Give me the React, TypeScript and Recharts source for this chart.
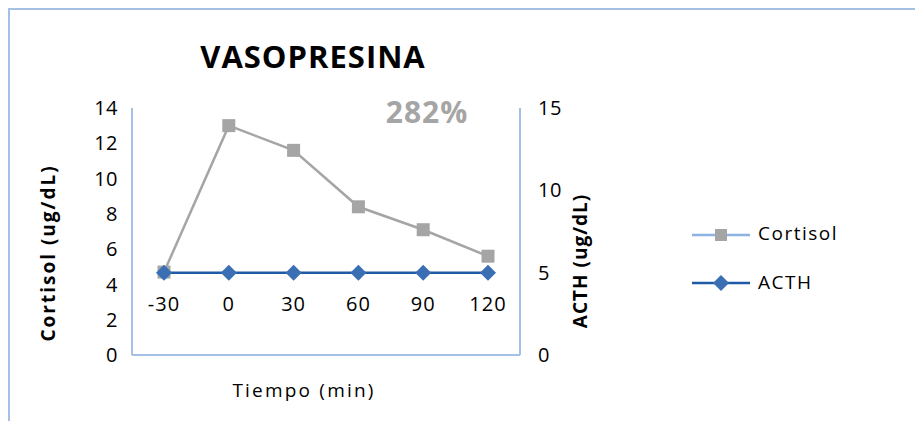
import { Line, LineChart, XAxis, YAxis } from "recharts";

const tiempos = ["-30", "0", "30", "60", "90", "120"];
const cortisol = [4.7, 13.0, 11.6, 8.4, 7.1, 5.6];
const acth = [5.0, 5.0, 5.0, 5.0, 5.0, 5.0];
const ticksCortisol = [0, 2, 4, 6, 8, 10, 12, 14];
const ticksActh = [0, 5, 10, 15];

const data = tiempos.map((t, i) => ({ t, cortisol: cortisol[i], acth: acth[i] }));

const FONT = "'Open Sans', sans-serif";
const FRAME = "#a4c0e4";
const GRIS = "#a5a5a5";
const AZUL = "#1f5aa6";
const AZUL_MARCA = "#3a6fb4";

// square marker for cortisol
const Cuadro = (props: any) => {
  const { cx, cy } = props;
  if (cx == null || cy == null) return null;
  return <rect x={cx - 6.5} y={cy - 6.5} width={13} height={13} fill={GRIS} />;
};

// diamond marker for ACTH
const Rombo = (props: any) => {
  const { cx, cy } = props;
  if (cx == null || cy == null) return null;
  const r = 8;
  return (
    <polygon
      points={`${cx},${cy - r} ${cx + r},${cy} ${cx},${cy + r} ${cx - r},${cy}`}
      fill={AZUL_MARCA}
    />
  );
};

// category labels sit up inside the plot, like the Excel original
const TickTiempo = (props: any) => {
  const { x, y, payload } = props;
  return (
    <text
      x={x}
      y={y - 52}
      textAnchor="middle"
      fontFamily={FONT}
      fontSize={20}
      letterSpacing={1}
      fill="#000"
    >
      {payload.value}
    </text>
  );
};

const Leyenda = () => (
  <svg width={180} height={80} style={{ position: "absolute", left: 684, top: 214, overflow: "visible" }}>
    <line x1={0} y1={13} x2={58} y2={13} stroke="#8db3e2" strokeWidth={2.5} />
    <rect x={23} y={7} width={12} height={12} fill={GRIS} />
    <text x={66} y={18} fontFamily={FONT} fontSize={19} letterSpacing={1.5} fill="#000">
      Cortisol
    </text>
    <line x1={0} y1={61} x2={58} y2={61} stroke={AZUL} strokeWidth={2.5} />
    <polygon points="29,53 37,61 29,69 21,61" fill={AZUL_MARCA} />
    <text x={66} y={67} fontFamily={FONT} fontSize={19} letterSpacing={1.5} fill="#000">
      ACTH
    </text>
  </svg>
);

const tickStyle = { fontFamily: FONT, fontSize: 20, fill: "#000", letterSpacing: 0.5 };

export default function App() {
  return (
    <div style={{ position: "relative", width: 915, height: 413 }}>
      <div style={{ position: "absolute", left: 0, top: 0, width: 915, height: 2, background: FRAME }} />
      <div style={{ position: "absolute", left: 0, top: 0, width: 2, height: 413, background: FRAME }} />
      <LineChart
        width={915}
        height={413}
        data={data}
        margin={{ top: 100, right: 343, bottom: 36, left: 20 }}
      >
        <XAxis
          dataKey="t"
          height={30}
          padding={{ left: 32, right: 32 }}
          axisLine={{ stroke: FRAME, strokeWidth: 2 }}
          tickLine={false}
          tick={<TickTiempo />}
          label={{
            content: () => (
              <text x={296} y={389} textAnchor="middle" fontFamily={FONT} fontSize={19} letterSpacing={2.2} fill="#000">
                Tiempo (min)
              </text>
            ),
          }}
        />
        <YAxis
          yAxisId="izq"
          width={104}
          domain={[0, 14]}
          ticks={ticksCortisol}
          axisLine={{ stroke: FRAME, strokeWidth: 2 }}
          tickLine={false}
          tickMargin={8}
          tick={tickStyle}
          label={{
            content: () => (
              <text
                x={47}
                y={245}
                transform="rotate(-90 47 245)"
                textAnchor="middle"
                fontFamily={FONT}
                fontSize={19}
                fontWeight="bold"
                letterSpacing={2}
                fill="#000"
              >
                Cortisol (ug/dL)
              </text>
            ),
          }}
        />
        <YAxis
          yAxisId="der"
          orientation="right"
          width={60}
          domain={[0, 15]}
          ticks={ticksActh}
          axisLine={{ stroke: FRAME, strokeWidth: 2 }}
          tickLine={false}
          tickMargin={12}
          tick={tickStyle}
          label={{
            content: () => (
              <text
                x={579}
                y={253}
                transform="rotate(-90 579 253)"
                textAnchor="middle"
                fontFamily={FONT}
                fontSize={19}
                fontWeight="bold"
                letterSpacing={1}
                fill="#000"
              >
                ACTH (ug/dL)
              </text>
            ),
          }}
        />
        <Line
          yAxisId="izq"
          dataKey="cortisol"
          stroke={GRIS}
          strokeWidth={2.5}
          dot={<Cuadro />}
          activeDot={false}
          isAnimationActive={false}
        />
        <Line
          yAxisId="der"
          dataKey="acth"
          stroke={AZUL}
          strokeWidth={2.5}
          dot={<Rombo />}
          activeDot={false}
          isAnimationActive={false}
        />
        <text x={305} y={60} textAnchor="middle" fontFamily={FONT} fontSize={31} fontWeight="bold" letterSpacing={1} fill="#000">
          VASOPRESINA
        </text>
        <text x={419} y={115} textAnchor="middle" fontFamily={FONT} fontSize={30} fontWeight="bold" letterSpacing={1} fill="#a5a5a5">
          282%
        </text>
      </LineChart>
      <Leyenda />
    </div>
  );
}
